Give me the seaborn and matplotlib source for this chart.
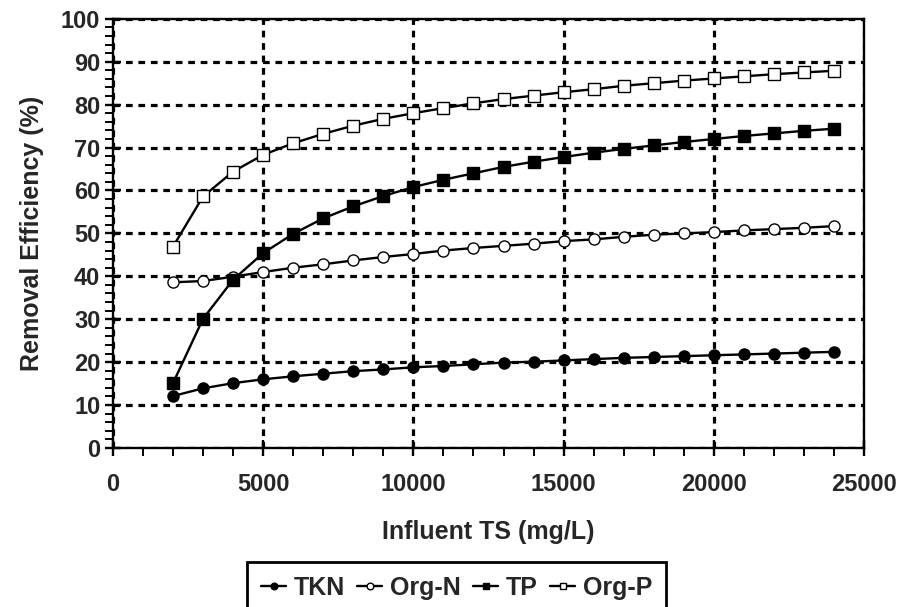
import numpy as np
import pandas as pd
import matplotlib
matplotlib.use("Agg")
import matplotlib.pyplot as plt
import seaborn as sns

# Influent TS (mg/L) vs removal efficiency (%)
ts = [2000, 3000, 4000, 5000, 6000, 7000, 8000, 9000, 10000, 11000, 12000, 13000,
      14000, 15000, 16000, 17000, 18000, 19000, 20000, 21000, 22000, 23000, 24000]
tkn = [12.1, 13.9, 15.1, 16.0, 16.7, 17.3, 17.9, 18.3, 18.8, 19.1, 19.5, 19.9,
       20.1, 20.4, 20.7, 21.0, 21.2, 21.4, 21.6, 21.8, 22.0, 22.2, 22.4]
org_n = [38.6, 38.9, 39.9, 41.0, 42.0, 42.8, 43.7, 44.5, 45.2, 46.0, 46.6, 47.1,
         47.6, 48.2, 48.6, 49.2, 49.7, 50.0, 50.3, 50.7, 51.0, 51.3, 51.7]
tp = [15.1, 30.1, 39.2, 45.4, 49.9, 53.5, 56.3, 58.7, 60.8, 62.5, 64.0, 65.5,
      66.7, 67.8, 68.8, 69.7, 70.5, 71.3, 72.0, 72.7, 73.3, 73.9, 74.4]
org_p = [46.9, 58.6, 64.4, 68.3, 71.0, 73.2, 75.1, 76.7, 78.0, 79.2, 80.3, 81.3,
         82.1, 82.9, 83.6, 84.4, 85.0, 85.6, 86.1, 86.6, 87.1, 87.5, 87.9]
series = ["TKN", "Org-N", "TP", "Org-P"]

df = pd.DataFrame({"ts": ts, "TKN": tkn, "Org-N": org_n, "TP": tp, "Org-P": org_p})

sns.set_style("ticks")
plt.rcParams["font.family"] = ["Liberation Sans", "DejaVu Sans"]
plt.rcParams["font.weight"] = "bold"

fig = plt.figure(figsize=(9.03, 6.07), dpi=100)
ax = fig.add_axes([0.125, 0.262, 0.832, 0.707])

styles = {
    "TKN": dict(marker="o", mfc="black"),
    "Org-N": dict(marker="o", mfc="white"),
    "TP": dict(marker="s", mfc="black"),
    "Org-P": dict(marker="s", mfc="white"),
}
for name in series:
    sns.lineplot(data=df, x="ts", y=name, ax=ax, color="black", lw=1.7,
                 ms=8, mec="black", mew=1.0, label=name, **styles[name])

ax.set_xlim(0, 25000)
ax.set_ylim(0, 100)
ax.set_xticks(range(0, 25001, 5000))
ax.set_yticks(range(0, 101, 10))
ax.set_xticks(range(0, 25001, 1000), minor=True)
ax.set_yticks(range(0, 101, 2), minor=True)
ax.grid(True, which="major", color="black", lw=2.3, ls=(0, (2.1, 1.8)))
ax.set_axisbelow(True)
for s in ax.spines.values():
    s.set_linewidth(1.7)
    s.set_color("black")
ax.tick_params(which="major", direction="inout", length=12, width=1.7,
               labelsize=17, pad=3, color="black")
ax.tick_params(which="minor", direction="out", length=6, width=1.4, color="black")
ax.tick_params(axis="x", which="major", pad=12)
for lab in ax.get_xticklabels() + ax.get_yticklabels():
    lab.set_fontweight("bold")

ax.set_xlabel("Influent TS (mg/L)", fontsize=18, fontweight="bold", labelpad=17)
ax.set_ylabel("Removal Efficiency (%)", fontsize=18, fontweight="bold", labelpad=12)

leg = ax.legend(loc="upper center", bbox_to_anchor=(0.5056, 0.074),
                bbox_transform=fig.transFigure, ncol=4, frameon=True,
                fancybox=False, edgecolor="black", fontsize=18,
                handlelength=1.0, handletextpad=0.3, columnspacing=0.5,
                markerscale=0.6, borderpad=0.55, borderaxespad=0)
leg.get_frame().set_linewidth(2)
leg.get_frame().set_alpha(1)
for t in leg.get_texts():
    t.set_fontweight("bold")

fig.savefig("out.png", dpi=100)
